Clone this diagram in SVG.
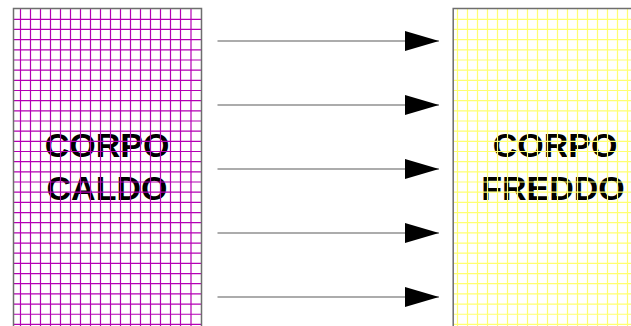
<svg xmlns="http://www.w3.org/2000/svg" width="631" height="326" viewBox="0 0 631 326">
<defs>
<style>
.lbl{font-family:"Liberation Sans",Arial,sans-serif;font-weight:bold;font-size:34px;fill:#000;text-anchor:middle}
.gh{fill:none;stroke:#b400b4;stroke-width:1.2}
.gc{fill:none;stroke:#ffff70;stroke-width:1.2}
.bd{fill:none;stroke:#6e6e6e;stroke-width:1.5}
.conn{stroke:#5a5a5a;stroke-width:1.2;fill:none}
</style>
<marker id="ah" markerUnits="userSpaceOnUse" markerWidth="36" markerHeight="22" refX="34" refY="10" orient="auto">
<path d="M0 0L34 10L0 20Z" fill="#000"/>
</marker>
</defs>
<rect width="631" height="326" fill="#fff"/>
<g id="corpo-caldo">
<rect x="13.5" y="8.5" width="188" height="330" fill="#fff"/>
<text class="lbl" x="107" y="157">CORPO</text>
<text class="lbl" x="107" y="200">CALDO</text>
<path class="gh" d="M20.5 8.5V326M30.5 8.5V326M40.5 8.5V326M50.5 8.5V326M60.5 8.5V326M70.5 8.5V326M80.5 8.5V326M90.5 8.5V326M100.5 8.5V326M110.5 8.5V326M120.5 8.5V326M130.5 8.5V326M140.5 8.5V326M150.5 8.5V326M160.5 8.5V326M170.5 8.5V326M180.5 8.5V326M191 8.5V326
M13.5 19.3H201.5M13.5 29.47H201.5M13.5 39.64H201.5M13.5 49.81H201.5M13.5 59.98H201.5M13.5 70.15H201.5M13.5 80.32H201.5M13.5 90.49H201.5M13.5 100.66H201.5M13.5 110.83H201.5M13.5 121H201.5M13.5 131.17H201.5M13.5 141.34H201.5M13.5 151.51H201.5M13.5 161.68H201.5M13.5 171.85H201.5M13.5 182.02H201.5M13.5 192.19H201.5M13.5 202.36H201.5M13.5 212.53H201.5M13.5 222.7H201.5M13.5 232.87H201.5M13.5 243.04H201.5M13.5 253.21H201.5M13.5 263.38H201.5M13.5 273.55H201.5M13.5 283.72H201.5M13.5 293.89H201.5M13.5 304.06H201.5M13.5 314.23H201.5M13.5 324.4H201.5"/>
<path class="bd" d="M13.5 330V8.5H201.5V330"/>
</g>
<g id="corpo-freddo">
<rect x="453" y="8.5" width="190" height="330" fill="#fff"/>
<text class="lbl" x="555" y="157">CORPO</text>
<text class="lbl" x="553" y="200">FREDDO</text>
<path class="gc" d="M457.5 8.5V326M467.5 8.5V326M477.5 8.5V326M487.5 8.5V326M497.5 8.5V326M507.5 8.5V326M517.5 8.5V326M527.5 8.5V326M537.5 8.5V326M547.5 8.5V326M557.5 8.5V326M567.5 8.5V326M577.5 8.5V326M587.5 8.5V326M597.5 8.5V326M607.5 8.5V326M617.5 8.5V326M627.5 8.5V326
M453 19.3H631M453 29.47H631M453 39.64H631M453 49.81H631M453 59.98H631M453 70.15H631M453 80.32H631M453 90.49H631M453 100.66H631M453 110.83H631M453 121H631M453 131.17H631M453 141.34H631M453 151.51H631M453 161.68H631M453 171.85H631M453 182.02H631M453 192.19H631M453 202.36H631M453 212.53H631M453 222.7H631M453 232.87H631M453 243.04H631M453 253.21H631M453 263.38H631M453 273.55H631M453 283.72H631M453 293.89H631M453 304.06H631M453 314.23H631M453 324.4H631"/>
<path class="bd" d="M453.2 330V8.5H640"/>
</g>
<g id="connectors">
<line class="conn" x1="217.5" y1="41" x2="439" y2="41" marker-end="url(#ah)"/>
<line class="conn" x1="217.5" y1="105" x2="439" y2="105" marker-end="url(#ah)"/>
<line class="conn" x1="217.5" y1="169" x2="439" y2="169" marker-end="url(#ah)"/>
<line class="conn" x1="217.5" y1="233" x2="439" y2="233" marker-end="url(#ah)"/>
<line class="conn" x1="217.5" y1="297" x2="439" y2="297" marker-end="url(#ah)"/>
</g>
</svg>
